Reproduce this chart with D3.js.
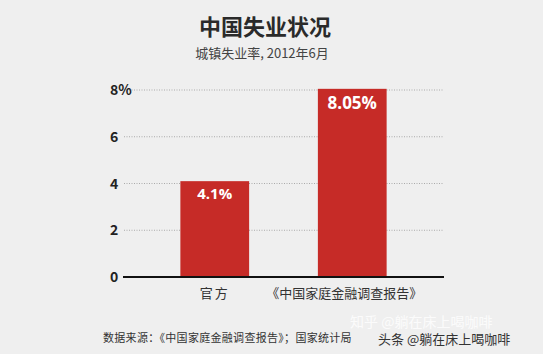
<!DOCTYPE html>
<html>
<head>
<meta charset="utf-8">
<script src="https://cdn.jsdelivr.net/npm/d3@7"></script>
<style>
  body { margin: 0; background: #efefef; }
  svg { display: block; }
</style>
</head>
<body>
<div id="chart"></div>
<script>
const categories = ['官方', '《中国家庭金融调查报告》'];
const values = [4.1, 8.05];
const valueLabels = ['4.1%', '8.05%'];
const yTicks = [0, 2, 4, 6, 8];

const width = 543;
const height = 354;
const font = '"Noto Sans CJK SC", "Noto Sans", sans-serif';

const svg = d3.select('#chart').append('svg')
  .attr('width', width)
  .attr('height', height);

svg.append('rect')
  .attr('width', width).attr('height', height)
  .attr('fill', '#efefef');

// title
svg.append('text')
  .attr('x', 265).attr('y', 35)
  .attr('text-anchor', 'middle')
  .attr('font-family', font)
  .attr('font-weight', 'bold')
  .attr('font-size', 22)
  .attr('fill', '#2a2a2a')
  .text('中国失业状况');
svg.append('text')
  .attr('x', 262).attr('y', 58)
  .attr('text-anchor', 'middle')
  .attr('font-family', font)
  .attr('font-size', 13)
  .attr('fill', '#444')
  .text('城镇失业率, 2012年6月');

const xScale = d3.scaleBand()
  .domain(categories)
  .range([146, 421])
  .paddingInner(0.5)
  .paddingOuter(0.25);

const yScale = d3.scaleLinear()
  .domain([0, 8])
  .range([277, 90]);

// gridlines
svg.append('g')
  .selectAll('line').data(yTicks.filter(d => d > 0))
  .join('line')
    .attr('x1', 124).attr('x2', 443)
    .attr('y1', d => yScale(d)).attr('y2', d => yScale(d))
    .attr('stroke', '#aaa')
    .attr('stroke-width', 1)
    .attr('stroke-dasharray', '1,1.5');

// y tick labels
svg.append('g')
  .selectAll('text').data(yTicks)
  .join('text')
    .attr('x', 110)
    .attr('y', d => yScale(d) + 5)
    .attr('font-family', font)
    .attr('font-weight', 'bold')
    .attr('font-size', 14)
    .attr('fill', '#222')
    .text(d => d === 8 ? d + '%' : d);

// bars
svg.append('g')
  .selectAll('rect').data(values)
  .join('rect')
    .attr('x', (d, i) => xScale(categories[i]))
    .attr('y', d => yScale(d))
    .attr('width', xScale.bandwidth())
    .attr('height', d => yScale(0) - yScale(d))
    .attr('fill', '#c62b27');

// value labels
svg.append('g')
  .selectAll('text').data(values)
  .join('text')
    .attr('x', (d, i) => xScale(categories[i]) + xScale.bandwidth() / 2)
    .attr('y', (d, i) => yScale(d) + (i === 0 ? 18 : 20))
    .attr('text-anchor', 'middle')
    .attr('font-family', '"Open Sans", sans-serif')
    .attr('font-weight', 'bold')
    .attr('font-size', (d, i) => i === 0 ? 15 : 17)
    .attr('fill', '#fff')
    .text((d, i) => valueLabels[i]);

// baseline
svg.append('line')
  .attr('x1', 123).attr('x2', 444)
  .attr('y1', yScale(0)).attr('y2', yScale(0))
  .attr('stroke', '#111')
  .attr('stroke-width', 2);

// category labels
const xAxis = d3.axisBottom(xScale).tickSize(0).tickPadding(12);
const xAxisG = svg.append('g')
  .attr('transform', `translate(0, ${yScale(0)})`)
  .call(xAxis);
xAxisG.select('.domain').remove();
xAxisG.selectAll('text')
  .attr('font-family', font)
  .attr('font-size', 13)
  .attr('letter-spacing', (d, i) => i === 0 ? 2 : 0)
  .attr('fill', '#333');
xAxisG.selectAll('.tick').filter((d, i) => i === 1)
  .attr('transform', `translate(${xScale(categories[1]) + xScale.bandwidth() / 2 - 8}, 0)`);

// source
svg.append('text')
  .attr('x', 103).attr('y', 342)
  .attr('font-family', font)
  .attr('font-size', 11)
  .attr('letter-spacing', 0.3)
  .attr('fill', '#333')
  .text('数据来源：《中国家庭金融调查报告》；国家统计局');

// watermarks
svg.append('text')
  .attr('x', 350).attr('y', 327)
  .attr('font-family', font)
  .attr('font-size', 14)
  .attr('fill', '#fff')
  .attr('opacity', 0.8)
  .text('知乎 @躺在床上喝咖啡');
svg.append('text')
  .attr('x', 378).attr('y', 344)
  .attr('font-family', font)
  .attr('font-size', 13)
  .attr('fill', '#333')
  .text('头条 @躺在床上喝咖啡');
</script>
</body>
</html>
